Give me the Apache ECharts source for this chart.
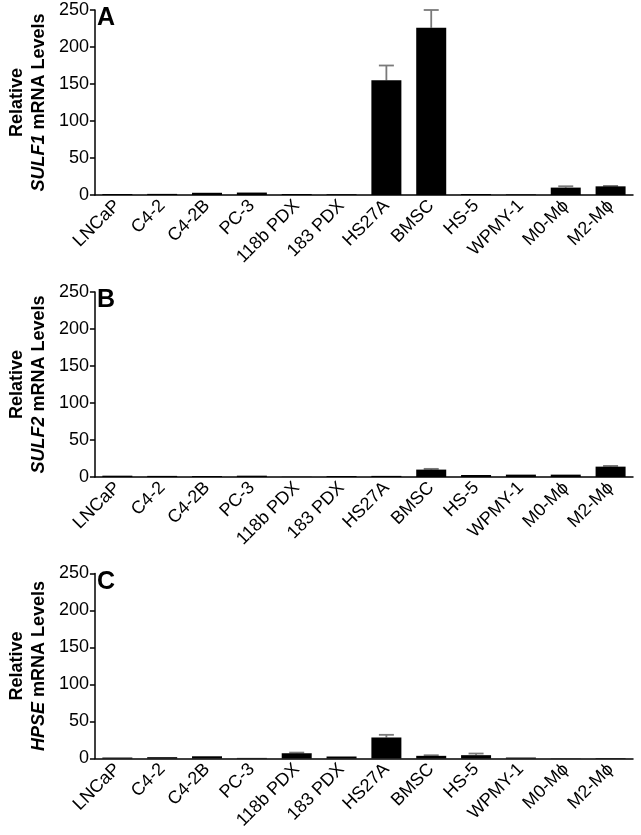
<!DOCTYPE html>
<html><head><meta charset="utf-8">
<script src="https://cdn.jsdelivr.net/npm/echarts@6/dist/echarts.min.js"></script>
<style>html,body{margin:0;padding:0;background:#fff}#c{width:641px;height:835px}</style>
</head><body><div id="c"></div>
<script>
const categories = ['LNCaP','C4-2','C4-2B','PC-3','118b PDX','183 PDX','HS27A','BMSC','HS-5','WPMY-1','M0-M\u03D5','M2-M\u03D5'];
const yTicks = [0,50,100,150,200,250];
const sulf1 = [1.3,1.5,3.0,3.3,1.3,1.0,155,226,1.3,0.8,10,11.7];
const sulf1Err = [null,null,null,null,null,null,175,250,null,null,11.8,12.3];
const sulf2 = [1.8,1.5,1.3,1.8,0.3,1.3,1.5,10,2.7,3.2,3.2,14];
const sulf2Err = [null,null,null,null,null,null,null,11,null,null,null,15];
const hpse = [1.3,1.8,3.0,0.8,7.1,2.7,28.4,3.6,4.5,1.3,0.3,0.7];
const hpseErr = [null,null,null,null,8,null,32,4.4,6.7,null,null,null];
const genes = ['SULF1','SULF2','HPSE'];
const letters = ['A','B','C'];

const FONT = 'Arial';
const chart = echarts.init(document.getElementById('c'), null, {renderer:'canvas'});
const tops = [10, 292, 573.5];
const grids = [], xAxes = [], yAxes = [], series = [];
const vals = [sulf1, sulf2, hpse], errs = [sulf1Err, sulf2Err, hpseErr];
const tickRich = {t: {fontSize: 18, fontFamily: FONT, color: '#000'}};
for (let i = 0; i < 3; i++) {
  grids.push({left: 82, right: 8, top: tops[i], height: 185});
  xAxes.push({
    type: 'category', gridIndex: i, data: categories,
    axisLine: {lineStyle: {color: '#000', width: 1.5}},
    axisTick: {alignWithLabel: true, length: 5, lineStyle: {color: '#000', width: 1.5}},
    axisLabel: {rotate: 45, fontSize: 18, color: '#000', fontFamily: FONT, margin: 8, interval: 0,
      formatter: v => '{t|' + v + '}', rich: tickRich}
  });
  yAxes.push({
    type: 'value', gridIndex: i, min: yTicks[0], max: yTicks[yTicks.length-1], interval: 50,
    splitLine: {show: false},
    axisLine: {show: true, lineStyle: {color: '#000', width: 1.5}},
    axisTick: {show: true, length: 5, lineStyle: {color: '#000', width: 1.5}},
    axisLabel: {fontSize: 18, color: '#000', fontFamily: FONT, margin: 6,
      formatter: v => '{t|' + v + '}', rich: tickRich},
    name: '{b|Relative}\n{bi|' + genes[i] + '}{b| mRNA Levels}',
    nameLocation: 'middle', nameRotate: 90, nameGap: 32,
    nameTextStyle: {
      rich: {
        b: {fontSize: 18, fontWeight: 'bold', fontFamily: FONT, color: '#000', lineHeight: 22, align: 'center'},
        bi: {fontSize: 18, fontWeight: 'bold', fontStyle: 'italic', fontFamily: FONT, color: '#000', lineHeight: 22}
      }
    }
  });
  series.push({
    type: 'bar', xAxisIndex: i, yAxisIndex: i, data: vals[i], barWidth: 30,
    itemStyle: {color: '#000'}, silent: true
  });
  const errData = vals[i].map((v, k) => [k, v, errs[i][k]]).filter(d => d[2] != null);
  series.push({
    type: 'custom', xAxisIndex: i, yAxisIndex: i, data: errData, silent: true, z: 1,
    renderItem: function (params, api) {
      const base = api.coord([api.value(0), api.value(1)]);
      const top = api.coord([api.value(0), api.value(2)]);
      const hw = 7.5;
      const st = {stroke: '#7a7a7a', lineWidth: 1.8};
      return {type: 'group', children: [
        {type: 'line', shape: {x1: base[0], y1: base[1], x2: top[0], y2: top[1]}, style: st},
        {type: 'line', shape: {x1: top[0]-hw, y1: top[1], x2: top[0]+hw, y2: top[1]}, style: st}
      ]};
    }
  });
}
chart.setOption({
  animation: false,
  textStyle: {fontFamily: FONT, fontSize: 18},
  grid: grids, xAxis: xAxes, yAxis: yAxes, series: series,
  graphic: letters.map((l, i) => ({
    type: 'text', left: 97, top: tops[i] - 4,
    style: {text: l, font: 'bold 25px Arial', fill: '#000'}
  }))
});
</script></body></html>
